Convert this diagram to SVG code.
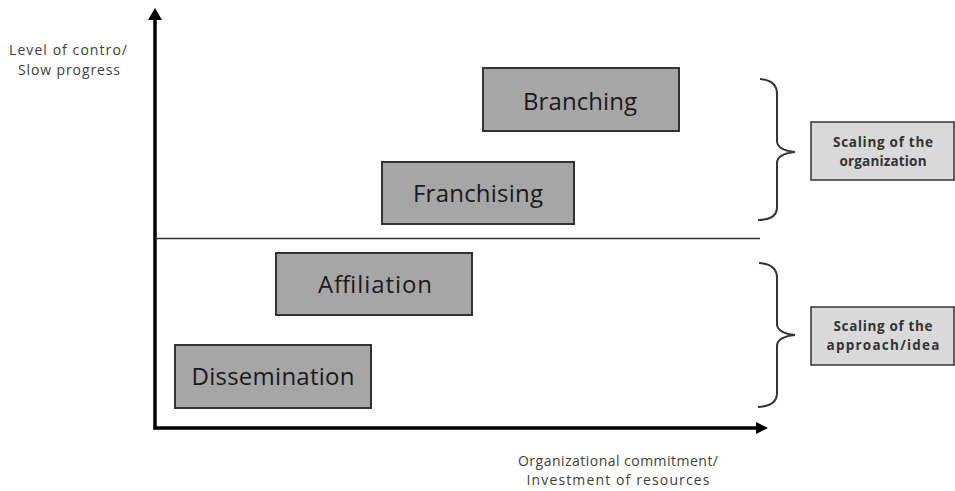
<svg xmlns="http://www.w3.org/2000/svg" width="955" height="491" viewBox="0 0 955 491">
<defs>
<style>
.box{fill:#a6a6a6;stroke:#333;stroke-width:2}
.side{fill:#d9d9d9;stroke:#333;stroke-width:1.5}
.lbl{font-family:"Open Sans","Liberation Sans",sans-serif;font-size:24px;fill:#1a1a1a;text-anchor:middle}
.sl{font-family:"Open Sans","Liberation Sans",sans-serif;font-size:13.5px;font-weight:bold;fill:#333;text-anchor:middle}
.ax{font-family:"Open Sans","Liberation Sans",sans-serif;font-size:14px;fill:#404040;text-anchor:middle}
.brace{fill:none;stroke:#333;stroke-width:2}
</style>
</defs>
<rect width="955" height="491" fill="#fff"/>
<g id="connectors">
<line x1="155" y1="429.5" x2="155" y2="19" stroke="#000" stroke-width="3.5"/>
<polygon points="155,8 148,20 162,20" fill="#000"/>
<line x1="153.5" y1="428" x2="757" y2="428" stroke="#000" stroke-width="3.5"/>
<polygon points="768,428 756,422 756,434" fill="#000"/>
<line x1="157" y1="238.5" x2="760" y2="238.5" stroke="#333" stroke-width="1.5"/>
<path class="brace" d="M760,79 Q777,80 777,94 L777,141 Q777,150 795,152 Q777,154 777,163 L777,207 Q777,220 758,220"/>
<path class="brace" d="M759,263 Q777,264 777,278 L777,324 Q777,333 795,335 Q777,337 777,346 L777,393 Q777,406 758,407"/>
</g>
<g id="yaxis-label">
<text class="ax" x="68" y="55" textLength="118">Level of contro/</text>
<text class="ax" x="69" y="75" textLength="102">Slow progress</text>
</g>
<g id="xaxis-label">
<text class="ax" x="618" y="466" textLength="200">Organizational commitment/</text>
<text class="ax" x="618" y="485" textLength="183">Investment of resources</text>
</g>
<g id="branching">
<rect class="box" x="483" y="68" width="196" height="63"/>
<text class="lbl" x="580" y="110" textLength="114">Branching</text>
</g>
<g id="franchising">
<rect class="box" x="382" y="162" width="192" height="62"/>
<text class="lbl" x="478" y="202" textLength="130">Franchising</text>
</g>
<g id="affiliation">
<rect class="box" x="276" y="253" width="196" height="62"/>
<text class="lbl" x="375" y="293" textLength="114">Affiliation</text>
</g>
<g id="dissemination">
<rect class="box" x="175" y="345" width="196" height="63"/>
<text class="lbl" x="273" y="385" textLength="163">Dissemination</text>
</g>
<g id="scaling-organization">
<rect class="side" x="811" y="122" width="143" height="58"/>
<text class="sl" x="883" y="147" textLength="100">Scaling of the</text>
<text class="sl" x="883" y="166" textLength="87">organization</text>
</g>
<g id="scaling-approach">
<rect class="side" x="811" y="307" width="143" height="58"/>
<text class="sl" x="883" y="331" textLength="99">Scaling of the</text>
<text class="sl" x="883" y="350" textLength="113">approach/idea</text>
</g>
</svg>
